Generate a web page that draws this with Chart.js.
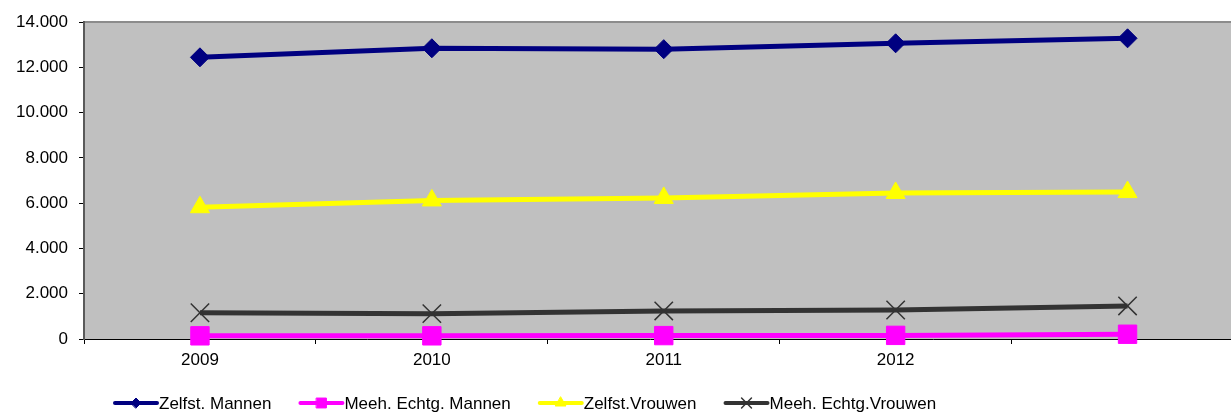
<!DOCTYPE html>
<html>
<head>
<meta charset="utf-8">
<script src="https://cdn.jsdelivr.net/npm/chart.js@4/dist/chart.umd.min.js"></script>
<style>
  html, body { margin: 0; padding: 0; background: #fff; overflow: hidden; }
  canvas { display: block; }
</style>
</head>
<body>
<canvas id="chart" width="1231" height="412"></canvas>
<script>
// data
const years = [2009, 2010, 2011, 2012, 2013];
const zelfstMannen = [12440, 12840, 12800, 13060, 13280];
const meehEchtgMannen = [140, 140, 150, 160, 210];
const zelfstVrouwen = [5820, 6120, 6230, 6450, 6490];
const meehEchtgVrouwen = [1160, 1120, 1240, 1280, 1460];
const yTickLabels = ['0', '2.000', '4.000', '6.000', '8.000', '10.000', '12.000', '14.000'];

const FONT = 'Liberation Sans, Arial, sans-serif';
const xMin = 2008.5;     // half a year of room left of 2009
const yearWidth = 231.9; // px per year, the source picture is cut off on the right

function toPoints(values) {
  return values.map((v, i) => ({ x: years[i], y: v }));
}

// gray plot area running to the canvas edge + thin top border
const plotBackground = {
  id: 'plotBackground',
  beforeDraw(chart) {
    const a = chart.chartArea, ctx = chart.ctx;
    ctx.save();
    ctx.fillStyle = '#c0c0c0';
    ctx.fillRect(a.left, a.top, chart.width - a.left, a.bottom - a.top);
    ctx.strokeStyle = '#8c8c8c';
    ctx.lineWidth = 2;
    ctx.beginPath();
    ctx.moveTo(a.left, a.top);
    ctx.lineTo(chart.width, a.top);
    ctx.stroke();
    ctx.restore();
  },
  afterDraw(chart) {
    // carry the x axis line on to the edge
    const a = chart.chartArea, ctx = chart.ctx;
    ctx.save();
    ctx.strokeStyle = '#000';
    ctx.lineWidth = 1;
    ctx.beginPath();
    ctx.moveTo(a.right - 1, a.bottom + 0.5);
    ctx.lineTo(chart.width, a.bottom + 0.5);
    ctx.stroke();
    ctx.restore();
  }
};

// legend like the excel one: line with small marker, then the name
const lineLegend = {
  id: 'lineLegend',
  afterDraw(chart) {
    const ctx = chart.ctx;
    let x = 115;
    const y = 403;
    ctx.save();
    ctx.font = '17px ' + FONT;
    ctx.textBaseline = 'middle';
    chart.data.datasets.forEach(ds => {
      ctx.strokeStyle = ds.borderColor;
      ctx.lineWidth = 4;
      ctx.lineCap = 'round';
      ctx.beginPath();
      ctx.moveTo(x, y);
      ctx.lineTo(x + 42, y);
      ctx.stroke();
      ctx.fillStyle = ds.pointBackgroundColor;
      ctx.strokeStyle = ds.pointBorderColor;
      ctx.lineWidth = ds.pointBorderWidth;
      Chart.helpers.drawPoint(ctx, {
        pointStyle: ds.pointStyle,
        radius: ds.legendRadius,
        rotation: 0,
        borderWidth: ds.pointBorderWidth
      }, x + 21, y);
      ctx.fillStyle = '#000';
      ctx.fillText(ds.label, x + 44, y + 1);
      x += 44 + ctx.measureText(ds.label).width + 29;
    });
    ctx.restore();
  }
};

const ctx = document.getElementById('chart').getContext('2d');
const myChart = new Chart(ctx, {
  type: 'line',
  data: {
    datasets: [{
      label: 'Zelfst. Mannen',
      data: toPoints(zelfstMannen),
      borderColor: '#000080',
      pointBackgroundColor: '#000080',
      pointBorderColor: '#000080',
      pointStyle: 'rectRot',
      pointRadius: 9.5,
      legendRadius: 5,
      pointBorderWidth: 1
    }, {
      label: 'Meeh. Echtg. Mannen',
      data: toPoints(meehEchtgMannen),
      borderColor: '#ff00ff',
      pointBackgroundColor: '#ff00ff',
      pointBorderColor: '#ff00ff',
      pointStyle: 'rect',
      pointRadius: 13,
      legendRadius: 7,
      pointBorderWidth: 1
    }, {
      label: 'Zelfst.Vrouwen',
      data: toPoints(zelfstVrouwen),
      borderColor: '#ffff00',
      pointBackgroundColor: '#ffff00',
      pointBorderColor: '#ffff00',
      pointStyle: 'triangle',
      pointRadius: 11,
      legendRadius: 6,
      pointBorderWidth: 1
    }, {
      label: 'Meeh. Echtg.Vrouwen',
      data: toPoints(meehEchtgVrouwen),
      borderColor: '#333333',
      pointBackgroundColor: '#333333',
      pointBorderColor: '#333333',
      pointStyle: 'crossRot',
      pointRadius: 13,
      legendRadius: 7,
      pointBorderWidth: 1.5
    }]
  },
  options: {
    responsive: false,
    animation: false,
    clip: false,
    layout: { padding: { top: 22, right: 1, bottom: 0, left: 0 } },
    elements: {
      line: { borderWidth: 5, tension: 0 }
    },
    plugins: {
      legend: { display: false },
      tooltip: { enabled: false }
    },
    scales: {
      x: {
        type: 'linear',
        min: xMin,
        max: 2013.442,
        grid: {
          drawOnChartArea: false,
          tickLength: 5,
          // tick marks only between the years
          tickColor: c => {
            const v = c.tick.value;
            return (v * 2) % 1 === 0 && !Number.isInteger(v) ? '#000' : 'rgba(0,0,0,0)';
          }
        },
        border: { color: '#000', width: 1 },
        ticks: {
          stepSize: 0.5,
          autoSkip: false,
          padding: 6,
          color: '#000',
          maxRotation: 0,
          font: { family: FONT, size: 17 },
          callback: v => years.includes(v) ? String(v) : ''
        },
        afterFit: s => {
          s.height = 73;
          s.paddingLeft = 0;
          s.paddingRight = 0;
        }
      },
      y: {
        min: 0,
        max: 14000,
        grid: { drawOnChartArea: false, tickLength: 5, color: '#000' },
        border: { color: '#5a5a5a', width: 2 },
        ticks: {
          stepSize: 2000,
          padding: 11,
          color: '#000',
          font: { family: FONT, size: 17 },
          callback: (v, i) => yTickLabels[i]
        },
        afterFit: s => { s.width = 84; }
      }
    }
  },
  plugins: [plotBackground, lineLegend]
});

// fit the x range to whatever width the plot got, so a year stays yearWidth px
for (let k = 0; k < 3; k++) {
  const area = myChart.chartArea;
  myChart.options.scales.x.max = xMin + (area.right - area.left) / yearWidth;
  myChart.update();
}
</script>
</body>
</html>
